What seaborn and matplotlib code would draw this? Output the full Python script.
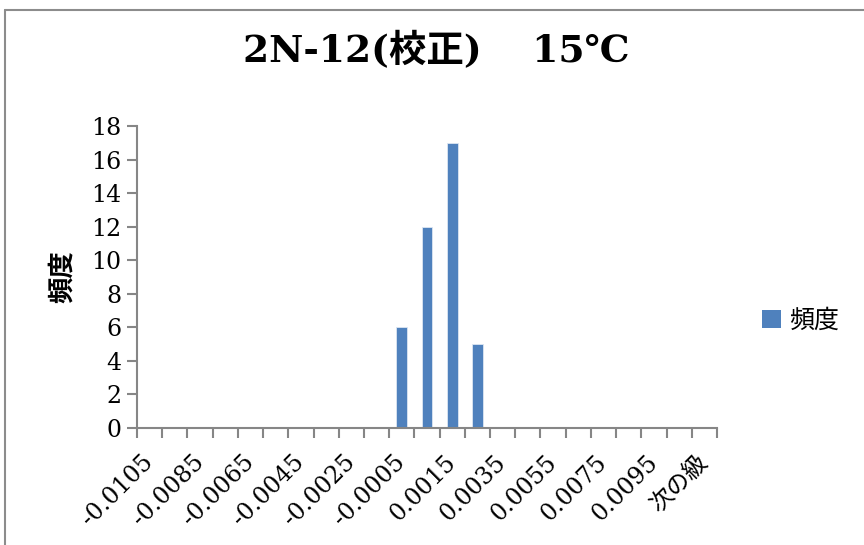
import matplotlib
matplotlib.use('Agg')
import matplotlib.pyplot as plt
from matplotlib.patches import Patch
from matplotlib.lines import Line2D
import seaborn as sns

# histogram bins (Excel style, last bin is "next class")
bins = ['-0.0105', '-0.0095', '-0.0085', '-0.0075', '-0.0065', '-0.0055',
        '-0.0045', '-0.0035', '-0.0025', '-0.0015', '-0.0005', '0.0005',
        '0.0015', '0.0025', '0.0035', '0.0045', '0.0055', '0.0065',
        '0.0075', '0.0085', '0.0095', '0.0105', '次の級']
counts = [0, 0, 0, 0, 0, 0, 0, 0, 0, 0, 6, 12, 17, 5, 0, 0, 0, 0, 0, 0, 0, 0, 0]
y_ticks = [0, 2, 4, 6, 8, 10, 12, 14, 16, 18]

title = '2N-12(校正)\u3000 15℃'
series_name = '頻度'
bar_color = '#4F81BD'
axis_grey = '#868686'
fonts = ['DejaVu Serif', 'Noto Sans CJK JP']


def main():
    sns.set_theme(style='white')
    plt.rcParams['font.family'] = fonts
    plt.rcParams['text.color'] = 'black'
    plt.rcParams['axes.labelcolor'] = 'black'

    fig = plt.figure(figsize=(8.64, 5.45), dpi=100)
    ax = fig.add_axes([137 / 864, 1 - 428 / 545, 580 / 864, 302 / 545])

    sns.barplot(x=bins, y=counts, color=bar_color, saturation=1, width=0.42,
                edgecolor='#dce6f2', linewidth=0.6, ax=ax)

    ax.set_xlim(-0.5, len(bins) - 0.5)
    ax.set_ylim(0, 18)
    ax.set_yticks(y_ticks)
    ax.set_yticklabels([str(v) for v in y_ticks], fontsize=17)

    # labels on every other bin, tick marks on the bin boundaries
    ax.set_xticks(range(0, len(bins), 2))
    ax.set_xticklabels(bins[::2], fontsize=17, rotation=45, ha='right',
                       va='center', rotation_mode='anchor')
    ax.set_xticks([i - 0.5 for i in range(len(bins) + 1)], minor=True)
    ax.tick_params(axis='x', which='major', length=0, pad=22, bottom=True, labelcolor='black')
    ax.tick_params(axis='x', which='minor', length=7, width=1.5, color=axis_grey,
                   direction='out', bottom=True)
    ax.tick_params(axis='y', length=7, width=1.5, color=axis_grey, direction='out',
                   pad=4, left=True, labelcolor='black')

    for side in ['top', 'right']:
        ax.spines[side].set_visible(False)
    for side in ['left', 'bottom']:
        ax.spines[side].set_color(axis_grey)
        ax.spines[side].set_linewidth(1.5)

    ax.set_xlabel('')
    ax.set_ylabel(series_name, fontsize=19, fontweight='bold', labelpad=12)

    fig.text(0.505, 0.907, title, fontsize=27, fontweight='bold', ha='center', va='center')

    handle = Patch(facecolor=bar_color, edgecolor='none', label=series_name)
    fig.legend(handles=[handle], loc='center left', bbox_to_anchor=(752 / 864, 1 - 321 / 545),
               frameon=False, fontsize=18, handlelength=0.75, handleheight=0.75,
               handletextpad=0.35, borderaxespad=0)

    # outer chart frame (only left and top edges visible in the crop)
    fig.add_artist(Line2D([5 / 864, 5 / 864], [0, 1 - 10 / 545], color='#8c8c8c', lw=1.5))
    fig.add_artist(Line2D([5 / 864, 1], [1 - 10 / 545, 1 - 10 / 545], color='#8c8c8c', lw=1.5))

    fig.savefig('out.png', dpi=100)


if __name__ == '__main__':
    main()
